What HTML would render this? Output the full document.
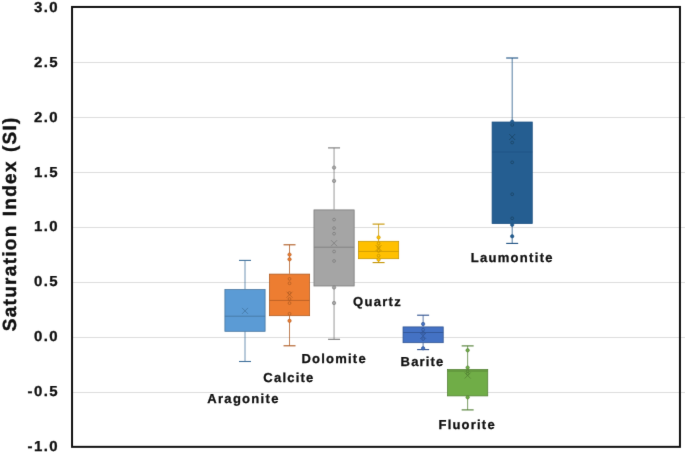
<!DOCTYPE html>
<html><head><meta charset="utf-8"><title>Saturation Index</title>
<style>
html,body{margin:0;padding:0;background:#fff;}
body{width:685px;height:452px;overflow:hidden;}
svg{display:block;}
svg{will-change:transform;}
text{font-family:"Liberation Sans",sans-serif;font-weight:bold;fill:#111;text-rendering:geometricPrecision;}
.tick{font-size:14.4px;letter-spacing:1.32px;stroke:#111;stroke-width:0.3px;}
.lab{font-size:13px;letter-spacing:1.28px;stroke:#111;stroke-width:0.3px;}
.ttl{font-size:19px;letter-spacing:1.3px;word-spacing:1.5px;stroke:#111;stroke-width:0.4px;}
</style></head><body>
<svg width="685" height="452" viewBox="0 0 685 452">
<defs><filter id="soft" x="0" y="0" width="685" height="452" filterUnits="userSpaceOnUse" color-interpolation-filters="sRGB"><feConvolveMatrix order="3" kernelMatrix="0.006 0.064 0.006 0.064 0.72 0.064 0.006 0.064 0.006" divisor="1" edgeMode="duplicate" preserveAlpha="true"/></filter></defs>
<g filter="url(#soft)">
<rect x="0" y="0" width="685" height="452" fill="#ffffff"/>

<line x1="72" y1="62.5" x2="685" y2="62.5" stroke="#dedede" stroke-width="1"/>
<line x1="72" y1="117.5" x2="685" y2="117.5" stroke="#dedede" stroke-width="1"/>
<line x1="72" y1="172.5" x2="685" y2="172.5" stroke="#dedede" stroke-width="1"/>
<line x1="72" y1="227.5" x2="685" y2="227.5" stroke="#dedede" stroke-width="1"/>
<line x1="72" y1="282.5" x2="685" y2="282.5" stroke="#dedede" stroke-width="1"/>
<line x1="72" y1="337.5" x2="685" y2="337.5" stroke="#dedede" stroke-width="1"/>
<line x1="72" y1="392.5" x2="685" y2="392.5" stroke="#dedede" stroke-width="1"/>
<g stroke="#41719C" stroke-width="0.75" fill="none">
<line x1="245.0" y1="260.4" x2="245.0" y2="289.3"/><line x1="245.0" y1="331.3" x2="245.0" y2="361.5"/>
<line x1="239.0" y1="260.4" x2="251.0" y2="260.4" stroke-width="1.1"/><line x1="239.0" y1="361.5" x2="251.0" y2="361.5" stroke-width="1.1"/>
<rect x="224.90" y="289.60" width="40.2" height="41.70" fill="#5B9BD5"/>
<line x1="224.90" y1="316.2" x2="265.10" y2="316.2"/>
<path d="M242.00 307.90L248.00 313.90M242.00 313.90L248.00 307.90" stroke="#41719C" stroke-width="0.7"/>
</g>
<g stroke="#AE5A21" stroke-width="0.75" fill="none">
<line x1="289.53" y1="244.8" x2="289.53" y2="273.8"/><line x1="289.53" y1="315.7" x2="289.53" y2="345.8"/>
<line x1="283.53" y1="244.8" x2="295.53" y2="244.8" stroke-width="1.1"/><line x1="283.53" y1="345.8" x2="295.53" y2="345.8" stroke-width="1.1"/>
<rect x="269.43" y="274.10" width="40.2" height="41.60" fill="#ED7D31"/>
<line x1="269.43" y1="300.4" x2="309.63" y2="300.4"/>
<circle cx="289.53" cy="278.9" r="1.4" stroke="#AE5A21" stroke-width="0.7"/>
<circle cx="289.53" cy="283.3" r="1.4" stroke="#AE5A21" stroke-width="0.7"/>
<circle cx="289.53" cy="293.0" r="1.4" stroke="#AE5A21" stroke-width="0.7"/>
<circle cx="289.53" cy="299.0" r="1.4" stroke="#AE5A21" stroke-width="0.7"/>
<circle cx="289.53" cy="303.1" r="1.4" stroke="#AE5A21" stroke-width="0.7"/>
<circle cx="289.53" cy="313.8" r="1.4" stroke="#AE5A21" stroke-width="0.7"/>
<circle cx="289.53" cy="254.6" r="1.7" fill="#ED7D31" stroke-width="0.6"/>
<circle cx="289.53" cy="259.3" r="1.7" fill="#ED7D31" stroke-width="0.6"/>
<circle cx="289.53" cy="320.8" r="1.7" fill="#ED7D31" stroke-width="0.6"/>
<path d="M286.53 291.70L292.53 297.70M286.53 297.70L292.53 291.70" stroke="#AE5A21" stroke-width="0.7"/>
</g>
<g stroke="#787878" stroke-width="0.75" fill="none">
<line x1="334.06" y1="147.9" x2="334.06" y2="209.6"/><line x1="334.06" y1="286.0" x2="334.06" y2="339.3"/>
<line x1="328.06" y1="147.9" x2="340.06" y2="147.9" stroke-width="1.1"/><line x1="328.06" y1="339.3" x2="340.06" y2="339.3" stroke-width="1.1"/>
<rect x="313.96" y="209.90" width="40.2" height="76.10" fill="#A5A5A5"/>
<line x1="313.96" y1="247.2" x2="354.16" y2="247.2"/>
<circle cx="334.06" cy="219.6" r="1.4" stroke="#787878" stroke-width="0.7"/>
<circle cx="334.06" cy="228.1" r="1.4" stroke="#787878" stroke-width="0.7"/>
<circle cx="334.06" cy="233.7" r="1.4" stroke="#787878" stroke-width="0.7"/>
<circle cx="334.06" cy="251.5" r="1.4" stroke="#787878" stroke-width="0.7"/>
<circle cx="334.06" cy="261.0" r="1.4" stroke="#787878" stroke-width="0.7"/>
<circle cx="334.06" cy="167.6" r="1.7" fill="#A5A5A5" stroke-width="0.6"/>
<circle cx="334.06" cy="180.9" r="1.7" fill="#A5A5A5" stroke-width="0.6"/>
<circle cx="334.06" cy="287.5" r="1.7" fill="#A5A5A5" stroke-width="0.6"/>
<circle cx="334.06" cy="303.0" r="1.7" fill="#A5A5A5" stroke-width="0.6"/>
<path d="M331.06 240.20L337.06 246.20M331.06 246.20L337.06 240.20" stroke="#787878" stroke-width="0.7"/>
</g>
<g stroke="#C49300" stroke-width="0.75" fill="none">
<line x1="378.59" y1="224.1" x2="378.59" y2="241.0"/><line x1="378.59" y1="258.7" x2="378.59" y2="262.6"/>
<line x1="372.59" y1="224.1" x2="384.59" y2="224.1" stroke-width="1.1"/><line x1="372.59" y1="262.6" x2="384.59" y2="262.6" stroke-width="1.1"/>
<rect x="358.49" y="241.30" width="40.2" height="17.40" fill="#FFC000"/>
<line x1="358.49" y1="251.4" x2="398.69" y2="251.4"/>
<circle cx="378.59" cy="243.3" r="1.4" stroke="#BC8C00" stroke-width="0.7"/>
<circle cx="378.59" cy="247.2" r="1.4" stroke="#BC8C00" stroke-width="0.7"/>
<circle cx="378.59" cy="251.0" r="1.4" stroke="#BC8C00" stroke-width="0.7"/>
<circle cx="378.59" cy="255.7" r="1.4" stroke="#BC8C00" stroke-width="0.7"/>
<circle cx="378.59" cy="237.4" r="1.7" fill="#FFC000" stroke-width="0.6"/>
<circle cx="378.59" cy="259.6" r="1.7" fill="#FFC000" stroke-width="0.6"/>
<path d="M375.59 245.00L381.59 251.00M375.59 251.00L381.59 245.00" stroke="#BC8C00" stroke-width="0.7"/>
</g>
<g stroke="#2F528F" stroke-width="0.75" fill="none">
<line x1="423.12" y1="315.2" x2="423.12" y2="326.6"/><line x1="423.12" y1="342.7" x2="423.12" y2="349.6"/>
<line x1="417.12" y1="315.2" x2="429.12" y2="315.2" stroke-width="1.1"/><line x1="417.12" y1="349.6" x2="429.12" y2="349.6" stroke-width="1.1"/>
<rect x="403.02" y="326.90" width="40.2" height="15.80" fill="#4472C4"/>
<line x1="403.02" y1="332.5" x2="443.22" y2="332.5"/>
<circle cx="423.12" cy="329.7" r="1.4" stroke="#2F528F" stroke-width="0.7"/>
<circle cx="423.12" cy="332.8" r="1.4" stroke="#2F528F" stroke-width="0.7"/>
<circle cx="423.12" cy="339.0" r="1.4" stroke="#2F528F" stroke-width="0.7"/>
<circle cx="423.12" cy="324.0" r="1.7" fill="#4472C4" stroke-width="0.6"/>
<circle cx="423.12" cy="348.3" r="1.7" fill="#4472C4" stroke-width="0.6"/>
<path d="M420.12 332.90L426.12 338.90M420.12 338.90L426.12 332.90" stroke="#2F528F" stroke-width="0.7"/>
</g>
<g stroke="#507E32" stroke-width="0.75" fill="none">
<line x1="467.65" y1="345.9" x2="467.65" y2="369.2"/><line x1="467.65" y1="395.9" x2="467.65" y2="409.9"/>
<line x1="461.65" y1="345.9" x2="473.65" y2="345.9" stroke-width="1.1"/><line x1="461.65" y1="409.9" x2="473.65" y2="409.9" stroke-width="1.1"/>
<rect x="447.55" y="369.50" width="40.2" height="26.40" fill="#70AD47"/>
<line x1="447.55" y1="371.0" x2="487.75" y2="371.0"/>
<circle cx="467.65" cy="371.3" r="1.4" stroke="#507E32" stroke-width="0.7"/>
<circle cx="467.65" cy="373.8" r="1.4" stroke="#507E32" stroke-width="0.7"/>
<circle cx="467.65" cy="350.3" r="1.7" fill="#70AD47" stroke-width="0.6"/>
<circle cx="467.65" cy="367.6" r="1.7" fill="#70AD47" stroke-width="0.6"/>
<circle cx="467.65" cy="397.3" r="1.7" fill="#70AD47" stroke-width="0.6"/>
<path d="M464.65 372.50L470.65 378.50M464.65 378.50L470.65 372.50" stroke="#507E32" stroke-width="0.7"/>
</g>
<g stroke="#1E5283" stroke-width="0.75" fill="none">
<line x1="512.18" y1="58.0" x2="512.18" y2="121.7"/><line x1="512.18" y1="223.6" x2="512.18" y2="243.4"/>
<line x1="506.18" y1="58.0" x2="518.18" y2="58.0" stroke-width="1.1"/><line x1="506.18" y1="243.4" x2="518.18" y2="243.4" stroke-width="1.1"/>
<rect x="492.08" y="122.00" width="40.2" height="101.60" fill="#255E91"/>
<line x1="492.08" y1="152.0" x2="532.28" y2="152.0"/>
<circle cx="512.18" cy="124.9" r="1.4" stroke="#18405F" stroke-width="0.7"/>
<circle cx="512.18" cy="142.5" r="1.4" stroke="#18405F" stroke-width="0.7"/>
<circle cx="512.18" cy="162.3" r="1.4" stroke="#18405F" stroke-width="0.7"/>
<circle cx="512.18" cy="194.2" r="1.4" stroke="#18405F" stroke-width="0.7"/>
<circle cx="512.18" cy="218.3" r="1.4" stroke="#18405F" stroke-width="0.7"/>
<circle cx="512.18" cy="121.7" r="1.7" fill="#255E91" stroke-width="0.6"/>
<circle cx="512.18" cy="224.8" r="1.7" fill="#255E91" stroke-width="0.6"/>
<circle cx="512.18" cy="236.3" r="1.7" fill="#255E91" stroke-width="0.6"/>
<path d="M509.18 134.00L515.18 140.00M509.18 140.00L515.18 134.00" stroke="#18405F" stroke-width="0.7"/>
</g>
<rect x="72.05" y="6.95" width="607.9" height="439.9" fill="none" stroke="#111" stroke-width="2"/>
<text class="tick" transform="translate(58.9,11.95) scale(1.04,1)" text-anchor="end">3.0</text>
<text class="tick" transform="translate(58.9,66.82) scale(1.04,1)" text-anchor="end">2.5</text>
<text class="tick" transform="translate(58.9,121.69) scale(1.04,1)" text-anchor="end">2.0</text>
<text class="tick" transform="translate(58.9,176.56) scale(1.04,1)" text-anchor="end">1.5</text>
<text class="tick" transform="translate(58.9,231.43) scale(1.04,1)" text-anchor="end">1.0</text>
<text class="tick" transform="translate(58.9,286.30) scale(1.04,1)" text-anchor="end">0.5</text>
<text class="tick" transform="translate(58.9,341.17) scale(1.04,1)" text-anchor="end">0.0</text>
<text class="tick" transform="translate(58.9,396.04) scale(1.04,1)" text-anchor="end">-0.5</text>
<text class="tick" transform="translate(58.9,450.91) scale(1.04,1)" text-anchor="end">-1.0</text>
<text class="lab" style="letter-spacing:1.30px" transform="translate(207.30,402.5) scale(1,1)">Aragonite</text>
<text class="lab" style="letter-spacing:1.23px" transform="translate(263.30,382.1) scale(1,1)">Calcite</text>
<text class="lab" style="letter-spacing:1.22px" transform="translate(301.50,362.7) scale(1,1)">Dolomite</text>
<text class="lab" style="letter-spacing:1.28px" transform="translate(353.10,306.0) scale(1,1)">Quartz</text>
<text class="lab" style="letter-spacing:1.16px" transform="translate(400.60,366.0) scale(1,1)">Barite</text>
<text class="lab" style="letter-spacing:1.21px" transform="translate(438.50,429.0) scale(1,1)">Fluorite</text>
<text class="lab" style="letter-spacing:1.31px" transform="translate(470.70,262.1) scale(1,1)">Laumontite</text>
<text class="ttl" transform="translate(16.3,331.3) rotate(-90)">Saturation Index (SI)</text>
</g></svg></body></html>
